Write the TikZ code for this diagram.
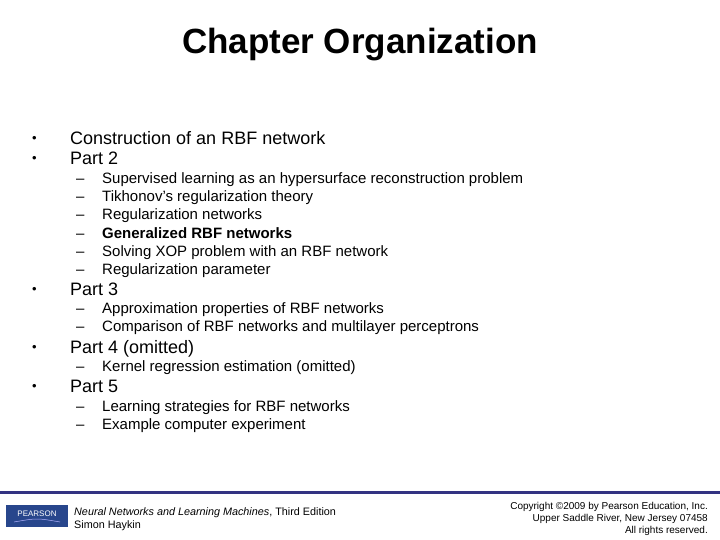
\documentclass[tikz,border=0pt]{standalone}
\usepackage{fontspec}
\setmainfont{Liberation Sans}
\begin{document}
\begin{tikzpicture}[x=1pt,y=-1pt,
  lvl1/.style={anchor=base west,font=\fontsize{18}{20}\selectfont,inner sep=0},
  lvl2/.style={anchor=base west,font=\fontsize{15}{17}\selectfont,inner sep=0},
  bul/.style={anchor=base west,font=\fontsize{13}{14}\selectfont,inner sep=0},
  foot/.style={inner sep=0,anchor=base west,font=\fontsize{10.8}{12}\selectfont},
  footr/.style={inner sep=0,anchor=base east,font=\fontsize{10}{12}\selectfont}]
\useasboundingbox (0,0) rectangle (720,540);
\node[font=\fontsize{35}{40}\selectfont\bfseries,inner sep=0] (title) at (360,45) {Chapter Organization};
% level 1
\foreach \y/\t [count=\i] in {138/Construction of an RBF network,158/Part 2,288/Part 3,346/Part 4 (omitted),385/Part 5}{
  \node[bul] (b\i) at (32,\y+5) {•};
  \node[lvl1] (l\i) at (70,\y+7) {\t};
}
% level 2
\foreach \y/\t [count=\i] in {179/Supervised learning as an hypersurface reconstruction problem,197/Tikhonov’s regularization theory,215/Regularization networks,233/\textbf{Generalized RBF networks},251/Solving XOP problem with an RBF network,269/Regularization parameter,308/Approximation properties of RBF networks,326/Comparison of RBF networks and multilayer perceptrons,366/Kernel regression estimation (omitted),406/Learning strategies for RBF networks,424/Example computer experiment}{
  \node[lvl2] (d\i) at (76,\y+5) {–};
  \node[lvl2] (s\i) at (102,\y+5) {\t};
}
% footer
\fill[fill={rgb,255:red,51;green,51;blue,130}] (0,491) rectangle (720,494);
\fill[fill={rgb,255:red,40;green,70;blue,140}] (6,505) rectangle (68,527);
\node[inner sep=0,text=white,font=\fontsize{8}{9}\selectfont] (logo) at (37,514) {PEARSON};
\draw[white!70!blue,line width=0.5pt] (14,522) .. controls (37,518) .. (60,522);
\node[foot] (f1) at (74,515) {\textit{Neural Networks and Learning Machines}, Third Edition};
\node[foot] (f2) at (74,528) {Simon Haykin};
\node[footr] (c1) at (708,509) {Copyright ©2009 by Pearson Education, Inc.};
\node[footr] (c2) at (708,521) {Upper Saddle River, New Jersey 07458};
\node[footr] (c3) at (708,533) {All rights reserved.};
\end{tikzpicture}
\end{document}
